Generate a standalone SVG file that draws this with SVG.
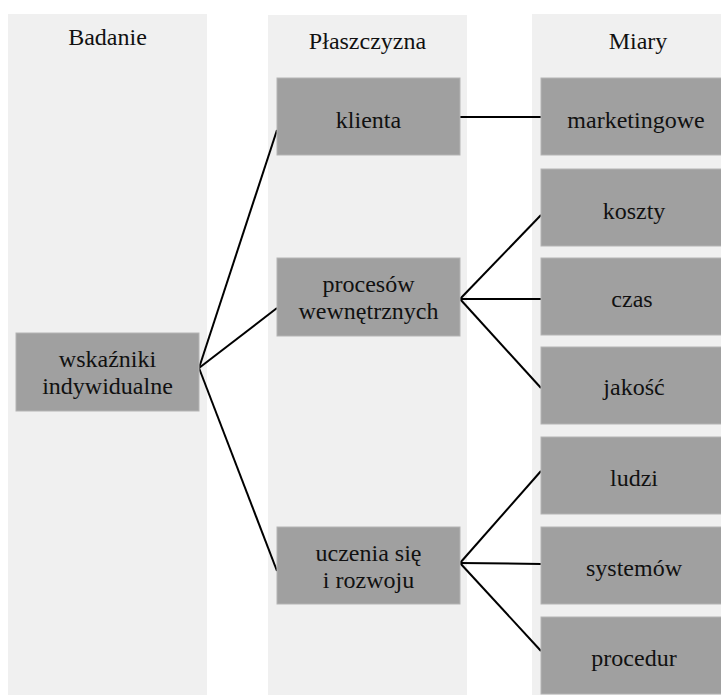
<svg xmlns="http://www.w3.org/2000/svg" width="721" height="698" viewBox="0 0 721 698">
<style>
.col{fill:#f0f0f0}
.box{fill:#a0a0a0;stroke:#b4b4b4;stroke-width:1}
.t{font-family:"Liberation Serif","Times New Roman",serif;font-size:24px;fill:#111;text-anchor:middle}
.conn line{stroke:#000;stroke-width:2}
</style>
<rect width="721" height="698" fill="#fff"/>
<g id="columns">
<rect class="col" x="8" y="14" width="199" height="681"/>
<rect class="col" x="268" y="15" width="199" height="680"/>
<rect class="col" x="532" y="14" width="199" height="681"/>
<text class="t" x="107.5" y="45">Badanie</text>
<text class="t" x="367.5" y="49">Płaszczyzna</text>
<text class="t" x="638" y="49">Miary</text>
</g>
<g id="connectors" class="conn">
<line x1="199" y1="368" x2="277" y2="130"/>
<line x1="199" y1="368" x2="277" y2="308"/>
<line x1="199" y1="368" x2="277" y2="571"/>
<line x1="460" y1="117" x2="541" y2="117"/>
<line x1="460" y1="299" x2="541" y2="215"/>
<line x1="460" y1="299" x2="541" y2="299"/>
<line x1="460" y1="299" x2="541" y2="388"/>
<line x1="460" y1="563" x2="541" y2="471"/>
<line x1="460" y1="563" x2="541" y2="564"/>
<line x1="460" y1="563" x2="541" y2="651"/>
</g>
<g id="wskazniki"><rect class="box" x="16" y="333" width="183" height="78"/><text class="t" x="107.5" y="367">wskaźniki</text><text class="t" x="107.5" y="394">indywidualne</text></g>
<g id="klienta"><rect class="box" x="277" y="78" width="183" height="77"/><text class="t" x="368.5" y="128">klienta</text></g>
<g id="procesow"><rect class="box" x="277" y="258" width="183" height="78"/><text class="t" x="368.5" y="292">procesów</text><text class="t" x="368.5" y="319">wewnętrznych</text></g>
<g id="uczenia"><rect class="box" x="277" y="527" width="183" height="77"/><text class="t" x="368.5" y="561">uczenia się</text><text class="t" x="368.5" y="588">i rozwoju</text></g>
<g id="marketingowe"><rect class="box" x="541" y="78" width="185" height="77"/><text class="t" x="636" y="128">marketingowe</text></g>
<g id="koszty"><rect class="box" x="541" y="169" width="185" height="77"/><text class="t" x="634" y="219">koszty</text></g>
<g id="czas"><rect class="box" x="541" y="258" width="185" height="77"/><text class="t" x="632" y="307">czas</text></g>
<g id="jakosc"><rect class="box" x="541" y="347" width="185" height="77"/><text class="t" x="634" y="395">jakość</text></g>
<g id="ludzi"><rect class="box" x="541" y="437" width="185" height="77"/><text class="t" x="634" y="486">ludzi</text></g>
<g id="systemow"><rect class="box" x="541" y="527" width="185" height="77"/><text class="t" x="634" y="576">systemów</text></g>
<g id="procedur"><rect class="box" x="541" y="617" width="185" height="77"/><text class="t" x="634" y="666">procedur</text></g>
</svg>
